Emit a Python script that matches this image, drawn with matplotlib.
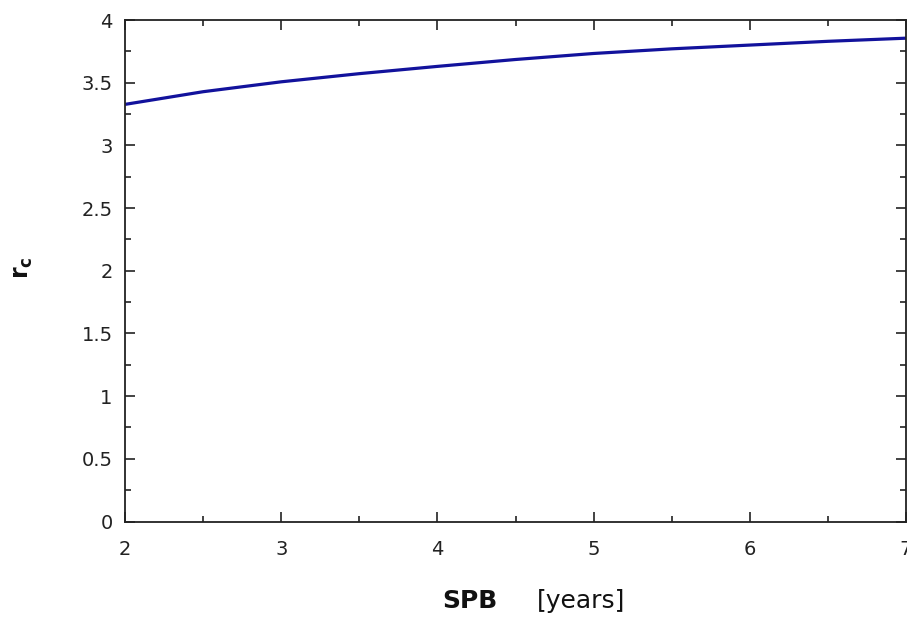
import matplotlib
matplotlib.use('Agg')
import matplotlib.pyplot as plt
from matplotlib.ticker import MultipleLocator

# values
spb_years = [2.0, 2.5, 3.0, 3.5, 4.0, 4.5, 5.0, 5.5, 6.0, 6.5, 7.0]
r_c = [3.327, 3.428, 3.507, 3.572, 3.630, 3.685, 3.733, 3.770, 3.800, 3.830, 3.855]

x_ticks = [2, 3, 4, 5, 6, 7]
y_ticks = [0, 0.5, 1, 1.5, 2, 2.5, 3, 3.5, 4]
y_tick_labels = ['0', '0.5', '1', '1.5', '2', '2.5', '3', '3.5', '4']

plt.rcParams['font.family'] = ['DejaVu Sans']

fig = plt.figure(figsize=(9.07, 6.22), dpi=100)
ax = fig.add_axes([125 / 907, 100.5 / 622, 781 / 907, 501.5 / 622])

ax.plot(spb_years, r_c, color='#12129c', lw=2.3, solid_capstyle='butt')

ax.set_xlim(2, 7)
ax.set_ylim(0, 4)
ax.set_xticks(x_ticks)
ax.set_yticks(y_ticks)
ax.set_yticklabels(y_tick_labels)
ax.xaxis.set_minor_locator(MultipleLocator(0.5))
ax.yaxis.set_minor_locator(MultipleLocator(0.25))

ax.tick_params(which='both', direction='in', top=True, right=True,
               colors='#222222', labelcolor='#222222', width=1.2)
ax.tick_params(which='major', length=7, labelsize=14)
ax.tick_params(axis='x', which='major', pad=13)
ax.tick_params(axis='y', which='major', pad=9)
ax.tick_params(which='minor', length=4)
for sp in ax.spines.values():
    sp.set_color('#222222')
    sp.set_linewidth(1.3)

fig.text(470, 622 - 608, 'SPB', transform=None, fontsize=18, fontweight='bold',
         ha='center', va='baseline', color='#111111')
fig.text(581, 622 - 608, '[years]', transform=None, fontsize=18,
         ha='center', va='baseline', color='#111111')
fig.text(23, 622 - 268, r'$\mathbf{r_c}$', transform=None, fontsize=17,
         rotation=90, ha='center', va='center', color='#111111')

fig.savefig('out.png', dpi=100)
